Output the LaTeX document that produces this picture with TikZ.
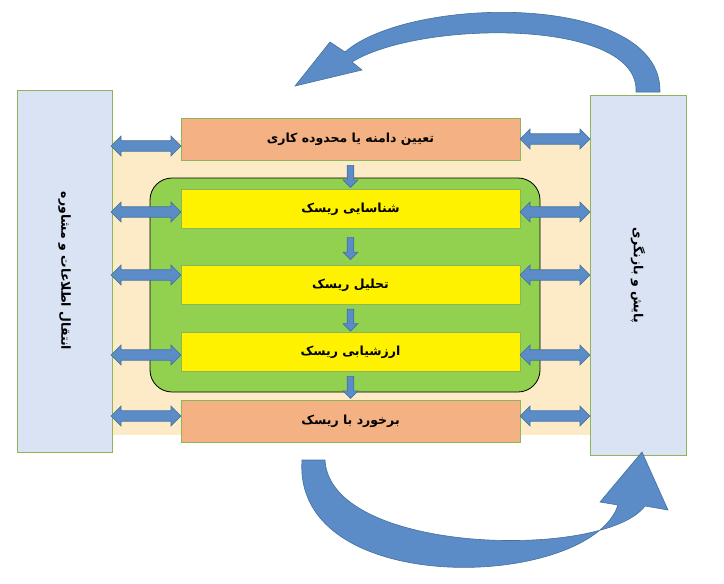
\documentclass[tikz,border=0pt]{standalone}
\usepackage{fontspec}
\newfontfamily\arfont[Script=Arabic]{DejaVu Sans}
\usetikzlibrary{shapes.arrows}
\TeXXeTstate=1
\newcommand{\ar}[1]{{\arfont\bfseries\beginR #1\endR}}
\definecolor{sideblue}{HTML}{DAE3F3}
\definecolor{sidegreen}{HTML}{8FB55A}
\definecolor{beige}{HTML}{FDEBC8}
\definecolor{lgreen}{HTML}{92D050}
\definecolor{orng}{HTML}{F4B183}
\definecolor{arblue}{HTML}{5B8CC8}
\definecolor{arline}{HTML}{41719C}
\begin{document}
\begin{tikzpicture}[x=1pt,y=-1pt,
 tf/.style={font=\fontsize{12.5}{14}\selectfont},
 side/.style={draw=sidegreen,fill=sideblue,line width=0.8pt},
 obox/.style={draw=sidegreen,fill=orng,line width=0.8pt,minimum width=339pt,minimum height=42pt,inner sep=0pt,tf},
 ybox/.style={draw=sidegreen,fill=yellow,line width=0.8pt,minimum width=339pt,minimum height=39pt,inner sep=0pt,tf},
 dbl/.style={double arrow,draw=arline,fill=arblue,minimum height=#1,minimum width=20pt,double arrow head extend=3pt,inner sep=3pt,line width=0.6pt},
 dn/.style={single arrow,shape border rotate=270,draw=arline,fill=arblue,minimum height=22pt,minimum width=15pt,single arrow head extend=3pt,inner sep=2pt,line width=0.6pt}]
\useasboundingbox (0,0) rectangle (724,584);
\fill[beige] (112,140) rectangle (590,435);
\draw[side] (17,90) rectangle (112,452);
\node[rotate=-90,tf] (lt) at (64.5,271) {\ar{انتقال اطلاعات و مشاوره}};
\draw[side] (590,95) rectangle (686,455);
\node[rotate=-90,tf] (rt) at (638,275) {\ar{پایش و بازنگری}};
\draw[fill=lgreen,rounded corners=22pt,line width=0.8pt] (150,178) rectangle (540,392);
\node[obox] (b1) at (350.5,139) {\raisebox{3pt}{\ar{تعیین دامنه یا محدوده کاری}}};
\node[ybox] (b2) at (350.5,209) {\ar{شناسایی ریسک}};
\node[ybox] (b3) at (350.5,285) {\ar{تحلیل ریسک}};
\node[ybox] (b4) at (350.5,352) {\ar{ارزشیابی ریسک}};
\node[obox] (b5) at (350.5,421) {\raisebox{3pt}{\ar{برخورد با ریسک}}};
\foreach \a/\b in {b1/b2,b2/b3,b3/b4,b4/b5}{
 \path (\a.south) -- (\b.north) node[midway,dn] {};}
\foreach \y in {146,212,275,355,416}{
 \node[dbl=70pt] at (146,\y) {};}
\foreach \y in {139,212,275,355,416}{
 \node[dbl=70pt] at (555,\y) {};}
% top curved arrow
\draw[arline,fill=arblue,line width=0.6pt] (660,92) .. controls (662,-8) and (410,-5) .. (345,52)
 -- (330,42) -- (295,86) -- (362,70) -- (352,62)
 .. controls (420,20) and (640,18) .. (636,92) -- cycle;
% bottom curved arrow
\draw[arline,fill=arblue,line width=0.6pt] (302,460) .. controls (292,600) and (590,590) .. (618,505)
 -- (600,502) -- (642,452) -- (668,510) -- (645,506)
 .. controls (605,560) and (330,555) .. (325,460) -- cycle;
\end{tikzpicture}
\end{document}
